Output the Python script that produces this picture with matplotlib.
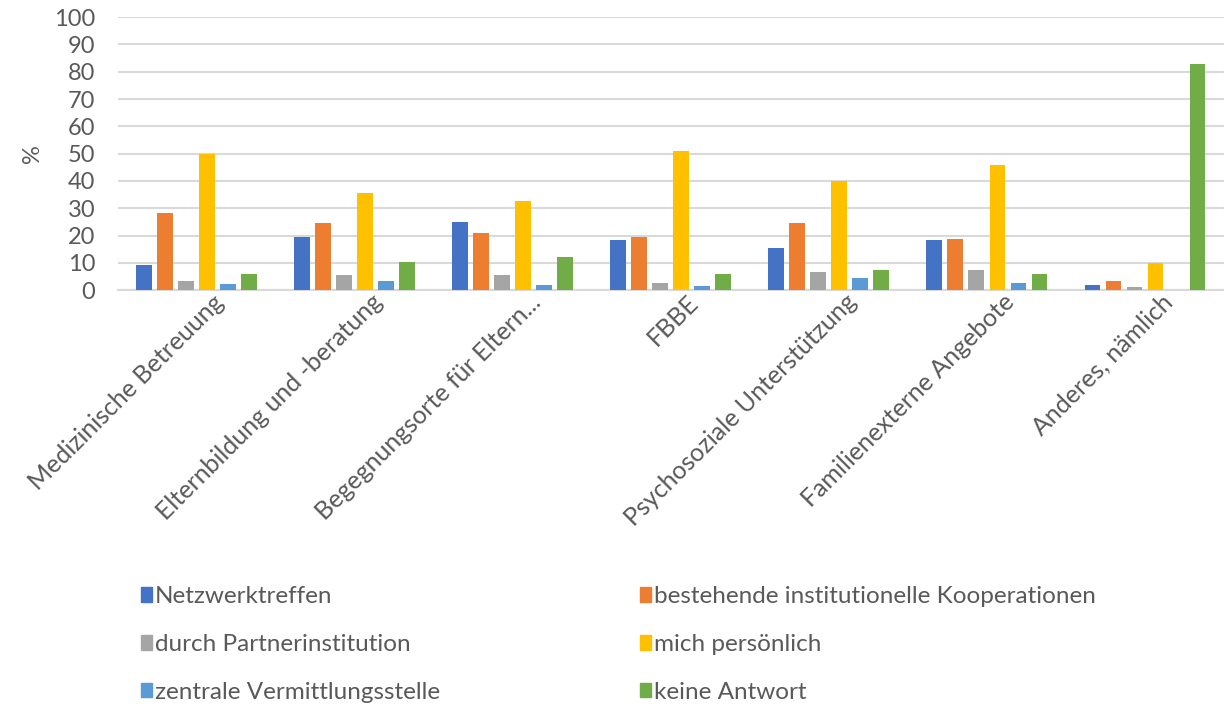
import numpy as np
import matplotlib.pyplot as plt
from matplotlib.patches import Patch

kategorien = ["Medizinische Betreuung", "Elternbildung und -beratung",
              "Begegnungsorte für Eltern...", "FBBE",
              "Psychosoziale Unterstützung", "Familienexterne Angebote",
              "Anderes, nämlich"]

serien = ["Netzwerktreffen", "bestehende institutionelle Kooperationen",
          "durch Partnerinstitution", "mich persönlich",
          "zentrale Vermittlungsstelle", "keine Antwort"]

netzwerktreffen = [9.1, 19.4, 25.1, 18.3, 15.5, 18.3, 1.8]
kooperationen = [28.3, 24.6, 21.0, 19.4, 24.6, 18.8, 3.3]
partnerinstitution = [3.3, 5.5, 5.5, 2.8, 6.5, 7.3, 1.0]
persoenlich = [50.0, 35.6, 32.8, 50.9, 40.0, 45.9, 9.8]
vermittlungsstelle = [2.3, 3.3, 2.0, 1.5, 4.6, 2.8, 0.0]
keine_antwort = [5.9, 10.5, 12.3, 5.9, 7.3, 5.9, 82.9]

werte = [netzwerktreffen, kooperationen, partnerinstitution,
         persoenlich, vermittlungsstelle, keine_antwort]
farben = ["#4472C4", "#ED7D31", "#A5A5A5", "#FFC000", "#5B9BD5", "#70AD47"]

textfarbe = "#595959"
plt.rcParams['font.family'] = ['Lato', 'DejaVu Sans']

fig = plt.figure(figsize=(12.24, 7.13), dpi=100)
ax = fig.add_axes([0.096, 0.593, 0.904, 0.383])

x = np.arange(len(kategorien))
breite = 0.1
abstand = 0.133
for i, (w, f) in enumerate(zip(werte, farben)):
    ax.bar(x + (i - 2.5) * abstand, w, width=breite, color=f, zorder=3)

ax.set_xlim(-0.5, len(kategorien) - 0.5)
ax.set_ylim(0, 100)
ax.set_yticks(range(0, 101, 10))
ax.yaxis.grid(True, color="#D9D9D9", linewidth=1.5, zorder=0)
for s in ["top", "right", "left"]:
    ax.spines[s].set_visible(False)
ax.spines["bottom"].set_color("#D9D9D9")
ax.spines["bottom"].set_linewidth(1.5)
ax.tick_params(axis="both", length=0, colors=textfarbe)
ax.tick_params(axis="y", labelsize=17, pad=16)

ax.set_xticks(x + 0.1)
ax.set_xticklabels(kategorien, rotation=45, ha="right", rotation_mode="anchor",
                   fontsize=18)
ax.tick_params(axis="x", pad=0)

ax.set_ylabel("%", fontsize=17, color=textfarbe, labelpad=8)

# Legende: zwei Spalten, spaltenweise gefüllt
reihenfolge = [0, 2, 4, 1, 3, 5]
handles = [Patch(color=farben[i]) for i in reihenfolge]
labels = [serien[i] for i in reihenfolge]
fig.legend(handles, labels, loc="lower left", bbox_to_anchor=(0.097, -0.016),
           ncol=2, frameon=False, fontsize=17.5, labelcolor=textfarbe,
           handlelength=0.45, handleheight=0.55, handletextpad=0.15,
           columnspacing=8.2, labelspacing=1.1)

fig.savefig("out.png", dpi=100)
